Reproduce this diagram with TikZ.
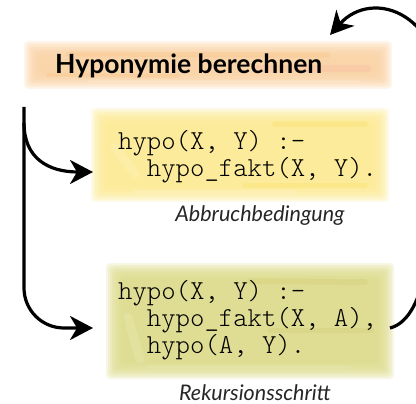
\documentclass[tikz,border=0pt]{standalone}
\usepackage{fontspec}
\setmainfont{Lato}
\usetikzlibrary{arrows.meta,calc}

% brush colours
\definecolor{bandA}{HTML}{F9CE9C}
\definecolor{bandB}{HTML}{F7BE7E}
\definecolor{bandC}{HTML}{F6B8A4}
\definecolor{bandL}{HTML}{FCE9D0}
\definecolor{yelA}{HTML}{FCE88A}
\definecolor{yelB}{HTML}{FADE62}
\definecolor{yelL}{HTML}{FDF4C8}
\definecolor{grnA}{HTML}{DAD882}
\definecolor{grnB}{HTML}{D0CE72}
\definecolor{grnL}{HTML}{EAEAB8}

% soft painted rectangle behind a node: stacked translucent layers
\newcommand\brushpaint[2]{%
  \foreach \d in {-4,-2,0,2,4,6,9,12} {
    \fill[#2, opacity=.22, rounded corners=4pt]
      ([shift={(\d,\d)}]#1.north west) rectangle ([shift={(-\d,-\d)}]#1.south east);
  }
}

\tikzset{
  brushbox/.style={rectangle, inner sep=0pt, outer sep=0pt},
  streak/.style={line cap=round, opacity=.3},
  conn/.style={line width=3.2pt, black},
  tip/.style={-{Stealth[length=23pt,width=24pt,inset=7pt]}},
  titletext/.style={font=\fontsize{26.5}{30}\selectfont\bfseries, inner sep=0pt},
  codefont/.style={font=\fontsize{27.4}{#1}\selectfont\ttfamily\fontseries{l}\selectfont},
  code/.style={align=left, inner sep=0pt},
  caption/.style={font=\fontsize{21.5}{24}\selectfont\itshape, inner sep=0pt, text=black!85},
}

\begin{document}
\begin{tikzpicture}[x=1pt, y=-1pt]
\useasboundingbox (0,0) rectangle (416,404);
\clip (0,0) rectangle (416,404);

% painted areas
\node[brushbox, minimum width=360pt, minimum height=40pt] (band) at (208,65) {};
\node[brushbox, minimum width=290pt, minimum height=86pt] (box1) at (240,155) {};
\node[brushbox, minimum width=280pt, minimum height=108pt] (box2) at (250,321) {};

\brushpaint{band}{bandA}
\begin{scope}[shift={(band.north west)}]
  \draw[streak, bandB, line width=5pt] (40,9) -- (300,10);
  \draw[streak, bandC, line width=7pt] (230,24) -- (340,24);
  \draw[streak, bandB, line width=4pt] (20,30) -- (150,31);
  \draw[streak, bandL, line width=3pt] (60,37) -- (330,37);
\end{scope}

\brushpaint{box1}{yelA}
\begin{scope}[shift={(box1.north west)}]
  \draw[streak, yelB, line width=6pt] (180,12) -- (270,12);
  \draw[streak, yelL, line width=9pt] (20,35) -- (40,62);
  \draw[streak, yelB, line width=5pt] (150,74) -- (270,74);
  \draw[streak, yelL, line width=4pt] (40,80) -- (200,80);
\end{scope}

\brushpaint{box2}{grnA}
\begin{scope}[shift={(box2.north west)}]
  \draw[streak, grnB, line width=6pt] (140,14) -- (255,15);
  \draw[streak, grnL, line width=9pt] (18,50) -- (30,92);
  \draw[streak, grnB, line width=5pt] (160,64) -- (262,64);
  \draw[streak, grnL, line width=4pt] (40,100) -- (240,100);
\end{scope}

% texts
\node[titletext, anchor=base west] (title) at (55,74) {Hyponymie berechnen};
\node[code, codefont=28, anchor=base west] (c1) at (118,177)
  {hypo(X, Y) :-\\\hphantom{hy}hypo\_fakt(X, Y).};
\node[caption] (cap1) at (260,216) {Abbruchbedingung};
\node[code, codefont=24.5, anchor=base west] (c2) at (118,353)
  {hypo(X, Y) :-\\\hphantom{hy}hypo\_fakt(X, A),\\\hphantom{hy}hypo(A, Y).};
\node[caption] (cap2) at (255,393) {Rekursionsschritt};

% connectors
\coordinate (trunktop) at (24,107);
\coordinate (fork) at (24,123);
\coordinate (looptip) at (330,35);

\draw[conn, tip, rounded corners=40pt] (trunktop) |- ([xshift=-17pt,yshift=-7pt]box2.west);
\draw[conn, tip] (fork) .. controls +(0,35) and +(-45,0) .. ([xshift=-2pt,yshift=-17pt]box1.west);
\draw[conn, tip] ([yshift=-7pt]box2.east) .. controls (406,324) and (418,305) .. (424,275)
  .. controls (430,245) and (445,180) .. (445,120)
  .. controls (448,10) and (372,-12) .. (looptip);
\end{tikzpicture}
\end{document}
